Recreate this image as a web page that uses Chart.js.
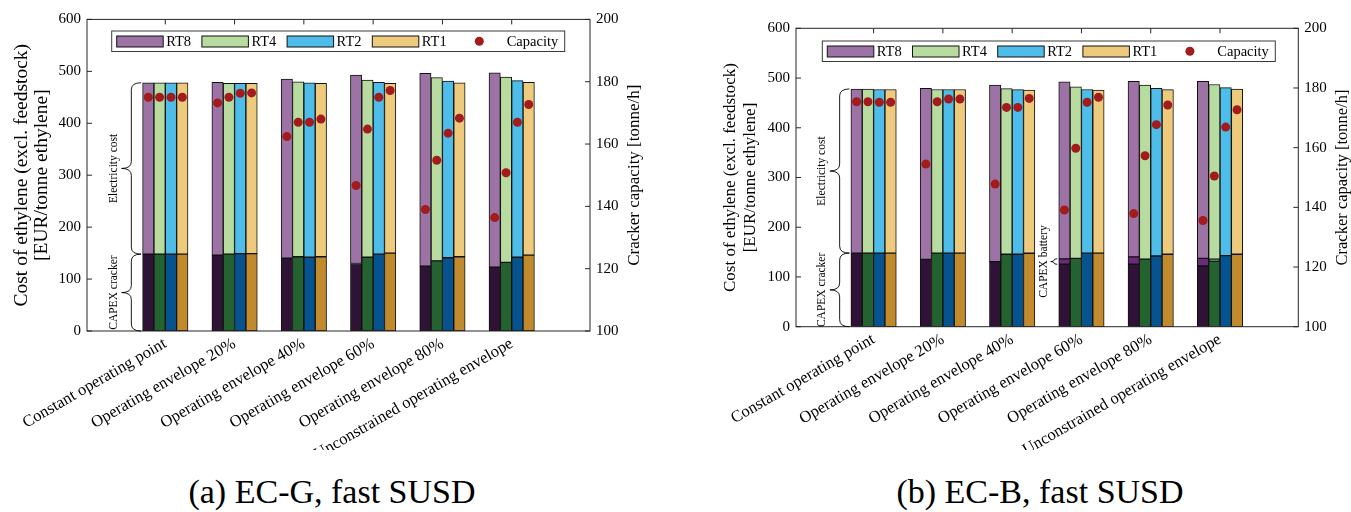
<!DOCTYPE html>
<html>
<head>
<meta charset="utf-8">
<title>Cost of ethylene and cracker capacity</title>
<script src="https://cdn.jsdelivr.net/npm/chart.js@4.4.1/dist/chart.umd.min.js"></script>
<style>
    body { margin: 0; background: #fff; width: 1351px; height: 512px; position: relative; overflow: hidden; }
    canvas { position: absolute; top: 0; }
    #chartA { left: 0; }
    #chartB { left: 680px; }
    .caption { position: absolute; top: 475px; font: 34px 'Liberation Serif', serif; line-height: 1; white-space: nowrap; transform: translateX(-50%); color: #000; }
</style>
</head>
<body>
<canvas id="chartA" width="680" height="450"></canvas>
<canvas id="chartB" width="671" height="450"></canvas>
<div class="caption" style="left: 332px;">(a) EC-G, fast SUSD</div>
<div class="caption" style="left: 1040px;">(b) EC-B, fast SUSD</div>
<script>
const categories = [
    'Constant operating point',
    'Operating envelope 20%',
    'Operating envelope 40%',
    'Operating envelope 60%',
    'Operating envelope 80%',
    'Unconstrained operating envelope'
];
const runTimes = ['RT8', 'RT4', 'RT2', 'RT1'];

// rows follow runTimes, columns follow categories
// (a) EC-G
const crackerA = [
    [148, 146, 140, 130, 125, 123],
    [148, 148, 143, 142, 135, 132],
    [148, 149, 142, 148, 141, 142],
    [148, 149, 143, 150, 143, 146]
];
const electricityA = [
    [330, 333, 345, 363, 371, 374],
    [330, 329, 337, 341, 353, 357],
    [330, 328, 336, 331, 340, 340],
    [330, 328, 334, 327, 335, 333]
];
const capacityA = [
    [175.0, 173.2, 162.4, 146.7, 139.0, 136.4],
    [175.0, 175.0, 167.0, 164.8, 154.8, 150.8],
    [175.0, 176.3, 167.0, 175.0, 163.5, 167.0],
    [175.0, 176.4, 168.0, 177.2, 168.3, 172.7]
];

// (b) EC-B
const crackerB = [
    [148, 135.5, 130.7, 125.5, 125.5, 122.0],
    [148, 148.0, 145.6, 137.5, 136.0, 132.0],
    [148, 148.0, 145.6, 148.0, 142.2, 142.8],
    [148, 148.0, 147.6, 148.0, 145.6, 145.6]
];
const batteryB = [
    [0, 0, 0, 11, 15, 15.5],
    [0, 0, 0, 0, 0, 4],
    [0, 0, 0, 0, 0, 0],
    [0, 0, 0, 0, 0, 0]
];
const electricityB = [
    [330, 344, 355, 356, 353, 356],
    [330, 329, 333, 345, 350, 351],
    [329, 329, 331, 329, 337, 338],
    [329, 329, 328, 328, 331, 332]
];
const capacityB = [
    [175.4, 154.5, 147.8, 139.1, 137.9, 135.6],
    [175.4, 175.4, 173.5, 159.8, 157.3, 150.5],
    [175.2, 176.3, 173.5, 175.2, 167.7, 166.9],
    [175.2, 176.3, 176.5, 176.9, 174.3, 172.7]
];

const FONT = "'Liberation Serif', 'DejaVu Serif', serif";
const lightColors = ['#9d72a4', '#b8dca0', '#4ebdea', '#eecb7c'];
const darkColors = ['#2e1336', '#24622f', '#06538f', '#c18a2c'];
const batteryColors = ['#6b2a7a', '#2f7d3b', '#1f6fae', '#d49a3a'];
const dotColor = '#a31b1d';

const BAR_STEP = 0.1638; // distance between neighbouring bars, in category units
const BAR_PX = 11.35;

function barX(group, rt) {
    return group + 1 + (rt - 1.5) * BAR_STEP;
}

function toPoints(rows) {
    const points = [];
    rows.forEach((row, rt) => row.forEach((v, g) => points.push({ x: barX(g, rt), y: v })));
    return points;
}

function toColors(rows, palette) {
    const colors = [];
    rows.forEach((row, rt) => row.forEach(() => colors.push(palette[rt])));
    return colors;
}

function barSet(label, rows, palette) {
    return {
        type: 'bar',
        label: label,
        data: toPoints(rows),
        backgroundColor: toColors(rows, palette),
        borderColor: '#111',
        borderWidth: 1,
        borderSkipped: false,
        barThickness: BAR_PX,
        grouped: false,
        order: 1
    };
}

function drawBrace(ctx, xRight, xTip, yTop, yBot) {
    const xMid = (xRight + xTip) / 2;
    const yMid = (yTop + yBot) / 2;
    const r = Math.min(7, (yBot - yTop) / 4);
    ctx.beginPath();
    ctx.moveTo(xRight, yTop);
    ctx.quadraticCurveTo(xMid, yTop, xMid, yTop + r);
    ctx.lineTo(xMid, yMid - r);
    ctx.quadraticCurveTo(xMid, yMid, xTip, yMid);
    ctx.quadraticCurveTo(xMid, yMid, xMid, yMid + r);
    ctx.lineTo(xMid, yBot - r);
    ctx.quadraticCurveTo(xMid, yBot, xRight, yBot);
    ctx.stroke();
}

// frame, inward ticks, braces, right title and the boxed legend
const decorPlugin = {
    id: 'decor',
    afterDatasetsDraw(chart, args, opts) {
        const { ctx, chartArea: a, scales } = chart;
        ctx.save();

        ctx.strokeStyle = '#262626';
        ctx.lineWidth = 1;
        ctx.strokeRect(a.left, a.top, a.right - a.left, a.bottom - a.top);
        ctx.beginPath();
        scales.y.ticks.forEach(t => {
            const p = scales.y.getPixelForValue(t.value);
            ctx.moveTo(a.left, p); ctx.lineTo(a.left + 5, p);
        });
        scales.y1.ticks.forEach(t => {
            const p = scales.y1.getPixelForValue(t.value);
            ctx.moveTo(a.right, p); ctx.lineTo(a.right - 5, p);
        });
        scales.x.ticks.forEach(t => {
            const p = scales.x.getPixelForValue(t.value);
            ctx.moveTo(p, a.top); ctx.lineTo(p, a.top + 5);
        });
        ctx.stroke();

        // braces with rotated notes
        ctx.strokeStyle = '#000';
        ctx.lineWidth = 0.9;
        opts.braces.forEach(b => {
            const edge = scales.x.getPixelForValue(barX(b.group, 0) - BAR_STEP / 2);
            const yTop = scales.y.getPixelForValue(b.to);
            const yBot = scales.y.getPixelForValue(b.from);
            drawBrace(ctx, edge - 1.5, edge - b.depth, yTop, yBot);
            ctx.save();
            ctx.translate(edge - b.textGap, (yTop + yBot) / 2);
            ctx.rotate(-Math.PI / 2);
            ctx.fillStyle = '#000';
            ctx.font = '11.5px ' + FONT;
            ctx.textAlign = 'center';
            ctx.textBaseline = 'middle';
            ctx.fillText(b.text, 0, 0);
            ctx.restore();
        });

        // right axis title, reading upwards
        ctx.save();
        ctx.translate(opts.rightTitleX, (a.top + a.bottom) / 2);
        ctx.rotate(-Math.PI / 2);
        ctx.fillStyle = '#000';
        ctx.font = opts.titleSize + 'px ' + FONT;
        ctx.textAlign = 'center';
        ctx.textBaseline = 'middle';
        ctx.fillText('Cracker capacity [tonne/h]', 0, 0);
        ctx.restore();

        // legend
        const lx = a.left + opts.legendDx;
        const ly = a.top + opts.legendDy;
        const lw = 453, lh = 20.5;
        ctx.fillStyle = '#fff';
        ctx.fillRect(lx, ly, lw, lh);
        ctx.strokeStyle = '#3a3a3a';
        ctx.lineWidth = 1;
        ctx.strokeRect(lx, ly, lw, lh);
        ctx.font = '14.5px ' + FONT;
        ctx.textAlign = 'left';
        ctx.textBaseline = 'middle';
        runTimes.forEach((name, i) => {
            const px = lx + 5 + 85.2 * i;
            ctx.fillStyle = lightColors[i];
            ctx.fillRect(px, ly + 5, 46.5, 11);
            ctx.strokeStyle = '#111';
            ctx.strokeRect(px, ly + 5, 46.5, 11);
            ctx.fillStyle = '#000';
            ctx.fillText(name, px + 49.5, ly + lh / 2 + 0.5);
        });
        ctx.fillStyle = dotColor;
        ctx.beginPath();
        ctx.arc(lx + 367.6, ly + lh / 2, 4.5, 0, Math.PI * 2);
        ctx.fill();
        ctx.fillStyle = '#000';
        ctx.fillText('Capacity', lx + 395, ly + lh / 2 + 0.5);

        ctx.restore();
    }
};

function makeChart(canvasId, data, layout) {
    const datasets = [barSet('CAPEX cracker', data.cracker, darkColors)];
    if (data.battery) {
        datasets.push(barSet('CAPEX battery', data.battery, batteryColors));
    }
    datasets.push(barSet('Electricity cost', data.electricity, lightColors));
    datasets.push({
        type: 'scatter',
        label: 'Capacity',
        yAxisID: 'y1',
        data: toPoints(data.capacity),
        backgroundColor: dotColor,
        borderWidth: 0,
        pointRadius: 4.5,
        order: 0
    });

    const tickFont = { family: FONT, size: 15 };

    return new Chart(document.getElementById(canvasId).getContext('2d'), {
        type: 'bar',
        data: { datasets },
        options: {
            responsive: false,
            animation: false,
            layout: { padding: layout.padding },
            plugins: {
                legend: { display: false },
                tooltip: { enabled: false },
                decor: layout.decor
            },
            scales: {
                x: {
                    type: 'linear',
                    min: layout.xMin,
                    max: 7.13,
                    offset: false,
                    grid: { display: false, drawTicks: false },
                    border: { display: false },
                    afterBuildTicks: s => { s.ticks = categories.map((c, i) => ({ value: i + 1 })); },
                    afterFit: s => { s.height = layout.xHeight; },
                    ticks: {
                        autoSkip: false,
                        minRotation: 30,
                        maxRotation: 30,
                        padding: 3,
                        color: '#000',
                        font: { family: FONT, size: 16.5 },
                        callback: v => categories[Math.round(v) - 1]
                    }
                },
                y: {
                    position: 'left',
                    stacked: true,
                    min: 0,
                    max: 600,
                    grid: { display: false, drawTicks: false },
                    border: { display: false },
                    afterFit: s => { s.width = layout.yWidth; },
                    ticks: { stepSize: 100, padding: 6, color: '#000', font: tickFont },
                    title: {
                        display: true,
                        text: ['Cost of ethylene (excl. feedstock)', '[EUR/tonne ethylene]'],
                        color: '#000',
                        font: { family: FONT, size: layout.titleSize, lineHeight: '20px' },
                        padding: { top: layout.titlePad, bottom: 0 }
                    }
                },
                y1: {
                    position: 'right',
                    min: 100,
                    max: 200,
                    grid: { display: false, drawTicks: false },
                    border: { display: false },
                    afterFit: s => { s.width = 40; },
                    ticks: { stepSize: 20, padding: 6, color: '#000', font: tickFont }
                }
            }
        },
        plugins: [decorPlugin]
    });
}

makeChart('chartA', {
    cracker: crackerA,
    electricity: electricityA,
    capacity: capacityA
}, {
    padding: { top: 19.4, right: 50, bottom: 0, left: 0 },
    xMin: -0.13,
    xHeight: 119,
    yWidth: 87,
    titleSize: 19.5,
    titlePad: 11.7,
    decor: {
        rightTitleX: 635,
        titleSize: 17,
        legendDx: 24.7,
        legendDy: 11.6,
        braces: [
            { group: 0, from: crackerA[0][0], to: crackerA[0][0] + electricityA[0][0], depth: 21, textGap: 29, text: 'Electricity cost' },
            { group: 0, from: 0, to: crackerA[0][0], depth: 21, textGap: 29, text: 'CAPEX cracker' }
        ]
    }
});

makeChart('chartB', {
    cracker: crackerB,
    battery: batteryB,
    electricity: electricityB,
    capacity: capacityB
}, {
    padding: { top: 28.3, right: 12.7, bottom: 0, left: 0 },
    xMin: -0.12,
    xHeight: 123.3,
    yWidth: 116,
    titleSize: 17,
    titlePad: 40.7,
    decor: {
        rightTitleX: 663,
        titleSize: 16.5,
        legendDx: 26.3,
        legendDy: 12.7,
        braces: [
            { group: 0, from: crackerB[0][0], to: crackerB[0][0] + electricityB[0][0], depth: 21, textGap: 29, text: 'Electricity cost' },
            { group: 0, from: 0, to: crackerB[0][0], depth: 21, textGap: 29, text: 'CAPEX cracker' },
            { group: 3, from: crackerB[0][3], to: crackerB[0][3] + batteryB[0][3], depth: 8, textGap: 15, text: 'CAPEX battery' }
        ]
    }
});
</script>
</body>
</html>
